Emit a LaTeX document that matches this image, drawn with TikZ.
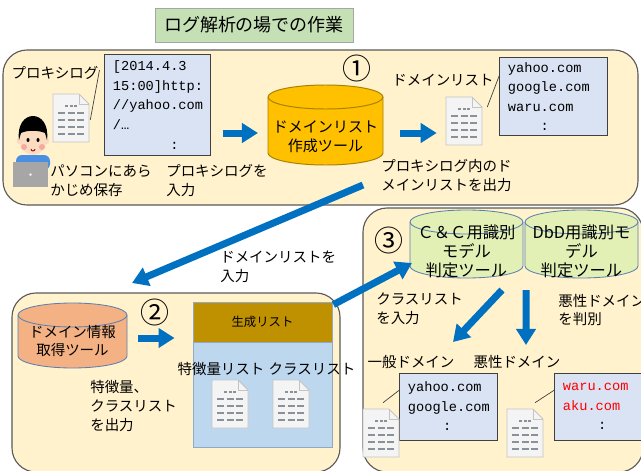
\documentclass[tikz,border=0pt]{standalone}
\usepackage{fontspec}
\setmainfont{Noto Sans CJK JP}
\newfontfamily\listfont{Liberation Mono}
\usepackage{xcolor}
\usepackage{tikz}
\usetikzlibrary{arrows.meta,calc,positioning}

\definecolor{panelfill}{HTML}{FFF2CC}
\definecolor{panelline}{HTML}{595959}
\definecolor{titlegreen}{HTML}{C5E0B4}
\definecolor{listfill}{HTML}{DAE3F3}
\definecolor{listline}{HTML}{404040}
\definecolor{arrowblue}{HTML}{0070C0}
\definecolor{toolgold}{HTML}{FFC000}
\definecolor{goldline}{HTML}{A98000}
\definecolor{infoorange}{HTML}{F4B183}
\definecolor{cylline}{HTML}{5B80B0}
\definecolor{modelgreen}{HTML}{E2F0B6}
\definecolor{genhead}{HTML}{BF9000}
\definecolor{genbody}{HTML}{BDD7EE}
\definecolor{genline}{HTML}{8FA9C8}
\definecolor{docfill}{HTML}{F4F4F4}
\definecolor{docline}{HTML}{C4C4C4}
\definecolor{docdash}{HTML}{8A9199}
\definecolor{skin}{HTML}{FCDCC0}
\definecolor{cheek}{HTML}{F7A8A0}
\definecolor{shirtblue}{HTML}{4A90E2}
\definecolor{laptopgray}{HTML}{A6A6A6}
\definecolor{badred}{HTML}{FF0000}

\tikzset{
  panel/.style={draw=panelline, fill=panelfill, line width=0.8pt, rounded corners=0.6cm},
  titlebox/.style={draw=gray!70, fill=titlegreen, line width=0.6pt,
    minimum width=4.95cm, minimum height=0.85cm, font=\fontsize{12.8pt}{15pt}\selectfont},
  listbox/.style={draw=listline, fill=listfill, line width=0.7pt, align=left,
    inner xsep=0.2cm, inner ysep=0pt, font=\listfont\fontsize{9.7pt}{13.9pt}\selectfont},
  note/.style={inner sep=0pt, align=left, font=\fontsize{10.3pt}{13.5pt}\selectfont},
  bignum/.style={inner sep=0pt, font=\fontsize{20.6pt}{22pt}\selectfont},
  cyltext/.style={inner sep=0pt, align=center, font=\fontsize{10.7pt}{13.5pt}\selectfont},
  goldcyl/.style={fill=toolgold, draw=goldline, line width=0.7pt},
  orangecyl/.style={fill=infoorange, draw=cylline, line width=0.6pt},
  greencyl/.style={fill=modelgreen, draw=cylline, line width=0.6pt},
  blockarrow/.style={draw=arrowblue, line width=0.175cm,
    -{Triangle[length=0.4cm,width=0.475cm]}},
  pointer/.style={draw=listline, line width=0.5pt},
  docicon/.pic={
    \filldraw[fill=docfill, draw=docline, line width=0.6pt]
      (0,0) -- (0,48) -- (26,48) -- (36,38) -- (36,0) -- cycle;
    \draw[docline, line width=0.6pt] (26,48) -- (26,38) -- (36,38);
    \draw[docdash, line width=0.065cm, dash pattern=on 0.075cm off 0.0375cm] (12,36) -- (24,36);
    \foreach \yy in {29,22,15,8}
      \draw[docdash, line width=0.065cm, dash pattern=on 0.175cm off 0.0625cm] (5,\yy) -- (31,\yy);
    \node[inner sep=0pt, minimum width=0.9cm, minimum height=1.2cm] (-page) at (18,24) {};
  }
}

% cylinder body: centre, half width, half height of the side wall, style
\newcommand\cylshape[4]{%
  \filldraw[#4] ($(#1)+(-#2,#3)$) -- ($(#1)+(-#2,-#3)$)
    arc[start angle=180, end angle=360, x radius=#2, y radius=12]
    -- ($(#1)+(#2,#3)$)
    arc[start angle=0, end angle=180, x radius=#2, y radius=12] -- cycle;
  \draw[#4] ($(#1)+(-#2,#3)$) arc[start angle=180, end angle=360, x radius=#2, y radius=12];
}

\begin{document}
\begin{tikzpicture}[x=0.025cm, y=0.025cm]
  \useasboundingbox (0,0) rectangle (641,470);

  % the three work areas
  \draw[panel] (3,265) rectangle (638,420);
  \draw[panel] (12,-2) rectangle (340,177);
  \draw[panel] (363,-2) rectangle (643,262);

  \node[titlebox] (title) at (254,445) {ログ解析の場での作業};

  % --- area 1 ---
  % person at the laptop
  \fill[shirtblue, rounded corners=0.15cm] (16,300) rectangle (50,315);
  \fill[skin] (33,330) ellipse [x radius=13, y radius=15];
  \fill[skin] (20,329) circle [radius=3.5];
  \fill[skin] (46,329) circle [radius=3.5];
  \fill[black] (19,330) .. controls (15,362) and (51,362) .. (47,330)
    -- (45,337) .. controls (38,340) and (27,340) .. (21,337) -- cycle;
  \fill[black] (28,330) ellipse [x radius=1.5, y radius=2];
  \fill[black] (38,330) ellipse [x radius=1.5, y radius=2];
  \fill[cheek] (24,323) circle [radius=3];
  \fill[cheek] (42,323) circle [radius=3];
  \draw[red!60!black, line width=0.6pt] (31,321) arc[start angle=180, end angle=360, radius=2];
  \fill[laptopgray] (13,283) rectangle (48,308);
  \fill[white!75!laptopgray] (30.5,295.5) circle [radius=1.5];

  \node[note] (proxylabel) at (55,397) {プロキシログ};
  \pic (docA) at (53,328) {docicon};
  \node[listbox, text width=2.225cm, minimum height=2.5cm] (logbox) at (157.5,365)
    {[2014.4.3\\15:00]http:\\//yahoo.com\\/…\\\hphantom{0000000}:};
  \draw[pointer] ($(docA-page.east)+(1,-2)$) -- ($(logbox.west)+(-5,35)$);

  \node[note, anchor=west] (pclabel) at (50,289) {パソコンにあら\\かじめ保存};
  \node[note, anchor=west] (inputlabel) at (166,289) {プロキシログを\\入力};

  \cylshape{325.5,345}{57.5}{28}{goldcyl}
  \node[cyltext] (mktool) at (325.5,333) {ドメインリスト\\作成ツール};
  \node[bignum] (num1) at (357,402) {①};

  \node[note] (domlabel) at (443,390) {ドメインリスト};
  \pic (docB) at (446,325) {docicon};
  \node[listbox, text width=2.275cm, minimum height=1.925cm] (domainbox) at (553.5,373.5)
    {yahoo.com\\google.com\\waru.com\\\hphantom{0000}:};
  \draw[pointer] ($(docB-page.east)+(5,14)$) -- ($(domainbox.west)+(0,21.5)$);
  \node[note, anchor=west] (outlabel) at (381,294) {プロキシログ内のド\\メインリストを出力};

  \draw[blockarrow] ($(logbox.east)+(12,-28)$) -- ($(mktool)+(-67.5,4)$);
  \draw[blockarrow] ($(mktool)+(74.5,4)$) -- ($(docB-page.west)+(-9,-12)$);

  % --- area 2 ---
  \cylshape{72.5,134.5}{54.5}{20.5}{orangecyl}
  \node[cyltext, font=\fontsize{10.3pt}{13pt}\selectfont] (infotool) at (72.5,129) {ドメイン情報\\取得ツール};
  \node[bignum] (num2) at (155,158) {②};
  \node[note, anchor=west] (inlabel) at (220,203) {ドメインリストを\\入力};

  \node[draw=genline, fill=genhead, line width=0.6pt, minimum width=3.475cm, minimum height=1cm,
    font=\fontsize{8.8pt}{10pt}\selectfont] (genhead) at (262.5,148) {生成リスト};
  \node[draw=genline, fill=genbody, line width=0.6pt, minimum width=3.475cm, minimum height=2.625cm,
    anchor=north] (genbody) at (genhead.south) {};
  \node[note] (featlist) at (221,101) {特徴量リスト};
  \node[note] (classlist) at (312,101) {クラスリスト};
  \pic (docE) at (212,42) {docicon};
  \pic (docF) at (273,42) {docicon};
  \node[note, anchor=west, font=\fontsize{10.3pt}{13.2pt}\selectfont] (featlabel) at (90,64)
    {特徴量、\\クラスリスト\\を出力};

  \draw[blockarrow] ($(mktool)+(37.5,-48)$) -- ($(infotool)+(59.5,58)$);
  \draw[blockarrow] ($(infotool)+(65.5,3)$) -- ($(genhead.west)+(-18,-16)$);

  % --- area 3 ---
  \cylshape{466.5,226}{56.5}{22}{greencyl}
  \node[cyltext, font=\fontsize{11.6pt}{13.5pt}\selectfont] (ccmodel) at (466.5,219)
    {Ｃ＆Ｃ用識別\\モデル\\判定ツール};
  \cylshape{581.5,226}{56.5}{22}{greencyl}
  \node[cyltext, font=\fontsize{11.6pt}{13.5pt}\selectfont] (dbdmodel) at (581.5,219)
    {DbD用識別モ\\デル\\判定ツール};
  \node[bignum] (num3) at (389,230) {③};

  \node[note, anchor=west] (classin) at (376,161) {クラスリスト\\を入力};
  \node[note, anchor=west] (judge) at (558,160) {悪性ドメイン\\を判別};
  \node[note] (goodlabel) at (411,108) {一般ドメイン};
  \node[note] (badlabel) at (517,108) {悪性ドメイン};

  \node[listbox, text width=2.025cm, minimum height=1.675cm] (goodbox) at (448.5,63.5)
    {yahoo.com\\google.com\\\hphantom{0000}\,:};
  \node[listbox, text width=1.85cm, minimum height=1.675cm] (badbox) at (600,63.5)
    {\textcolor{badred}{waru.com}\\\textcolor{badred}{aku.com}\\\hphantom{0000}\,:};
  \pic (docC) at (363,13) {docicon};
  \pic (docD) at (507,13) {docicon};
  \draw[pointer] ($(docC-page.north)+(2,6)$) -- ($(goodbox.west)+(0,16.5)$);
  \draw[pointer] ($(docD-page.north)+(10,6)$) -- ($(badbox.west)+(0,16.5)$);

  \draw[blockarrow] ($(genhead.north east)+(1,-3)$) -- ($(ccmodel)+(-54.5,-12)$);
  \draw[blockarrow] ($(ccmodel)+(35.5,-39)$) -- ($(goodlabel)+(42,20)$);
  \draw[blockarrow] ($(ccmodel)+(59.5,-39)$) -- ($(badlabel)+(9,17)$);
\end{tikzpicture}
\end{document}
